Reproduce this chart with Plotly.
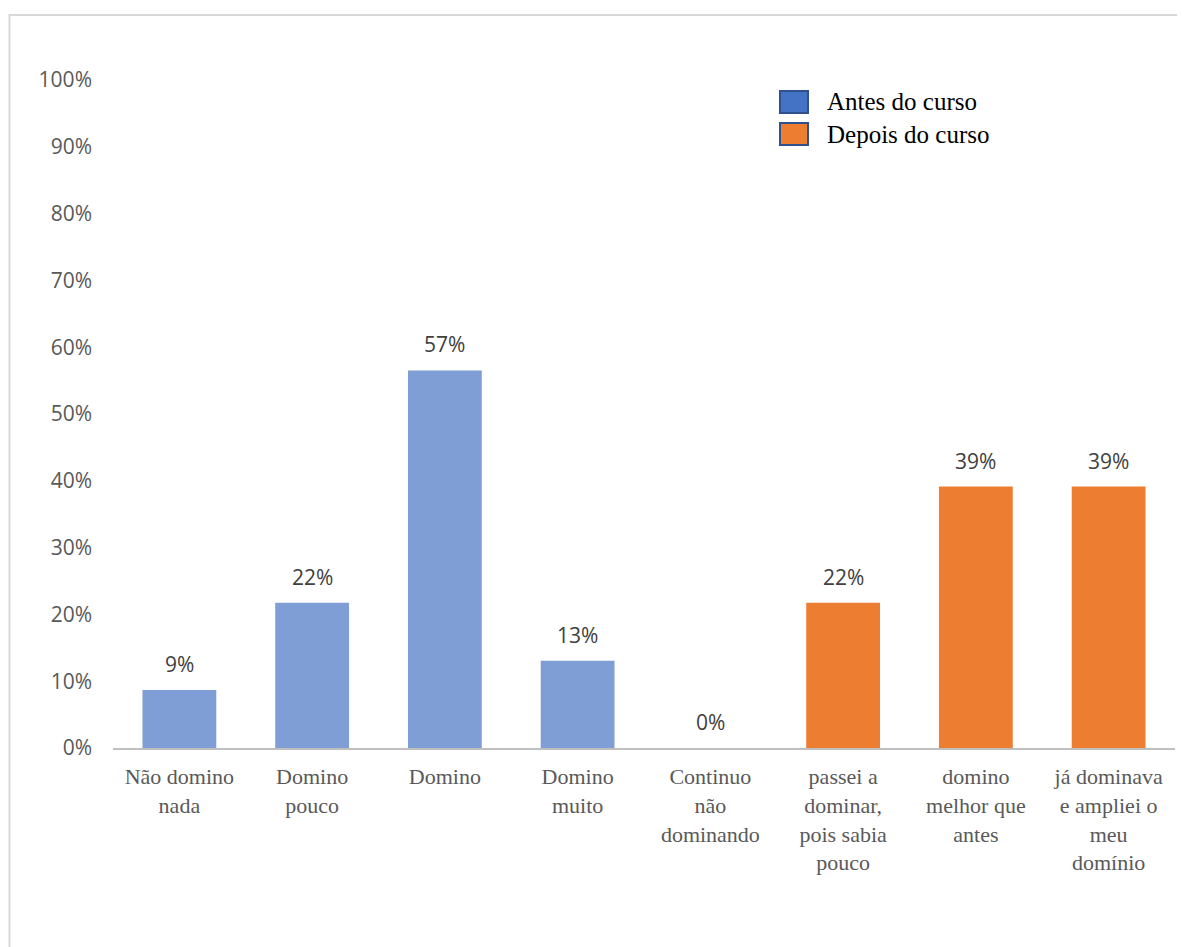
import plotly.graph_objects as go

categorias_antes = ["Não domino<br>nada", "Domino<br>pouco", "Domino", "Domino<br>muito"]
valores_antes = [2/23, 5/23, 13/23, 3/23]

categorias_depois = ["Continuo<br>não<br>dominando", "passei a<br>dominar,<br>pois sabia<br>pouco",
                     "domino<br>melhor que<br>antes", "já dominava<br>e ampliei o<br>meu<br>domínio"]
valores_depois = [0/23, 5/23, 9/23, 9/23]

rotulos = ["9%", "22%", "57%", "13%", "0%", "22%", "39%", "39%"]
series = ["Antes do curso", "Depois do curso"]

todas_cat = categorias_antes + categorias_depois
todos_val = valores_antes + valores_depois

fig = go.Figure()
fig.add_trace(go.Bar(x=categorias_antes, y=valores_antes, name=series[0],
                     marker=dict(color="#7F9ED6", line=dict(width=0)), showlegend=False))
fig.add_trace(go.Bar(x=categorias_depois, y=valores_depois, name=series[1],
                     marker=dict(color="#ED7D31", line=dict(width=0)), showlegend=False))

annotations = []
for c, v, t in zip(todas_cat, todos_val, rotulos):
    annotations.append(dict(x=c, y=v, xref="x", yref="y", text=t, showarrow=False,
                            yanchor="bottom", yshift=10,
                            font=dict(family="Open Sans", size=21, color="#404040")))

# page body has an 8px margin: figure coordinates = screen coordinates - 8
OFF = 8
W, H = 1185 - OFF, 947 - OFF
L, T = 113 - OFF, 80 - OFF
R = W - (1175 - OFF)
B = H - (748 - OFF)
pw, ph = W - L - R, H - T - B
def px(X):
    return (X - OFF - L) / pw
def py(Y):
    return 1 - (Y - OFF - T) / ph

shapes = [
    dict(type="rect", xref="paper", yref="paper", x0=px(9.5), x1=px(1240), y0=py(1000), y1=py(15),
         line=dict(color="#D9D9D9", width=2), fillcolor="rgba(0,0,0,0)", layer="below"),
    dict(type="rect", xref="paper", yref="paper", x0=px(780), x1=px(808), y0=py(113), y1=py(91),
         line=dict(color="#2F528F", width=2), fillcolor="#4472C4"),
    dict(type="rect", xref="paper", yref="paper", x0=px(780), x1=px(808), y0=py(145), y1=py(123),
         line=dict(color="#2F528F", width=2), fillcolor="#ED7D31"),
]
annotations.append(dict(xref="paper", yref="paper", x=px(825), y=py(102), xanchor="left", yanchor="middle",
                        text=series[0], showarrow=False,
                        font=dict(family="Liberation Serif", size=25, color="#000000")))
annotations.append(dict(xref="paper", yref="paper", x=px(825), y=py(134), xanchor="left", yanchor="middle",
                        text=series[1], showarrow=False,
                        font=dict(family="Liberation Serif", size=25, color="#000000")))

fig.update_layout(
    width=W, height=H,
    margin=dict(l=L, r=R, t=T, b=B, pad=0),
    paper_bgcolor="white", plot_bgcolor="white",
    barmode="overlay", bargap=0.444,
    annotations=annotations, shapes=shapes,
    showlegend=False,
)
fig.update_xaxes(categoryorder="array", categoryarray=todas_cat,
                 showline=True, linecolor="#BFBFBF", linewidth=2, showgrid=False, ticks="",
                 tickfont=dict(family="Liberation Serif", size=22, color="#595959"),
                 ticklabelstandoff=8)
fig.update_yaxes(range=[0, 1], dtick=0.1, tickformat=".0%", showgrid=False, zeroline=False,
                 showline=False, ticks="",
                 tickfont=dict(family="Open Sans", size=21, color="#595959"),
                 ticklabelstandoff=20)

fig.write_html("out.html")
